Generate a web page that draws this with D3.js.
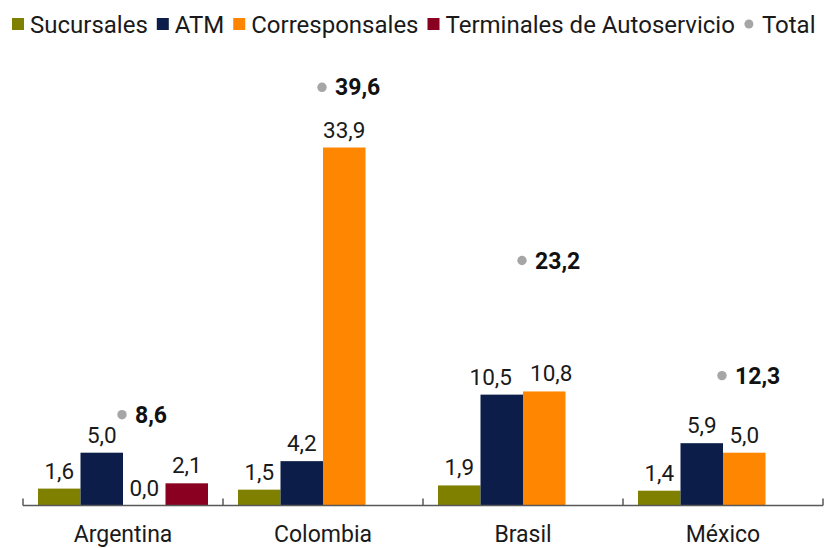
<!DOCTYPE html>
<html><head><meta charset="utf-8">
<script src="https://cdn.jsdelivr.net/npm/d3@7"></script>
<style>body{margin:0;background:#fff}svg{display:block}text{font-family:Roboto,"Noto Sans",sans-serif}</style>
</head><body>
<svg id="c" width="832" height="548"></svg>
<script>
const countries = ["Argentina","Colombia","Brasil","México"];
const seriesNames = ["Sucursales","ATM","Corresponsales","Terminales de Autoservicio"];
const sucursales = [1.6,1.5,1.9,1.4];
const atm = [5.0,4.2,10.5,5.9];
const corresponsales = [0.0,33.9,10.8,5.0];
const terminales = [2.1,null,null,null];
const totals = [8.6,39.6,23.2,12.3];
const colors = ["#7F7F00","#0B1D48","#FF8600","#8A0020"];
const totalColor = "#A6A6A6";
const seriesVals = [sucursales,atm,corresponsales,terminales];
const fmt = v => d3.format(".1f")(v).replace(".",",");
// label nudges to avoid overlapping value labels
const labelNudge = {"Brasil|ATM": -11, "Brasil|Corresponsales": 7};

const svg = d3.select("#c");
const baseY = 505.5;
const x0 = d3.scaleBand().domain(countries).range([23,823]);
const x1 = d3.scaleBand().domain(seriesNames).range([15,185]);
const y = d3.scaleLinear().domain([0,40]).range([baseY, baseY-40*10.56]);

countries.forEach((c,i)=>{
  const g = svg.append("g").attr("transform",`translate(${x0(c)},0)`);
  seriesNames.forEach((s,j)=>{
    const v = seriesVals[j][i];
    if(v===null) return;
    g.append("rect").attr("x",x1(s)).attr("width",x1.bandwidth())
      .attr("y",y(v)).attr("height",baseY-y(v)).attr("fill",colors[j]);
    const nx = labelNudge[c+"|"+s] || 0;
    g.append("text").attr("x",x1(s)+x1.bandwidth()/2+nx).attr("y",y(v)-10)
      .attr("text-anchor","middle").attr("font-size",22.5).attr("fill","#1a1a1a").text(fmt(v));
  });
  const cx = x0.bandwidth()/2 - 1;
  g.append("circle").attr("cx",cx).attr("cy",y(totals[i])).attr("r",4.7).attr("fill",totalColor);
  g.append("text").attr("x",cx+13).attr("y",y(totals[i])+8).attr("font-size",23)
    .attr("font-weight","bold").attr("fill","#111").text(fmt(totals[i]));
});

const axis = d3.axisBottom(x0).tickSize(0).tickPadding(0);
const ax = svg.append("g").attr("transform",`translate(0,${baseY})`).call(axis);
ax.select(".domain").remove();
ax.selectAll("text").attr("font-size",23).attr("fill","#1a1a1a").attr("dy",null).attr("y",36);
ax.append("line").attr("x1",23).attr("x2",823).attr("y1",0).attr("y2",0).attr("stroke","#595959").attr("stroke-width",1.5);
const bounds = x0.domain().map(d=>x0(d)).concat([x0.range()[1]]);
ax.selectAll("line.tk").data(bounds).enter().append("line").attr("class","tk")
  .attr("x1",d=>d).attr("x2",d=>d).attr("y1",0).attr("y2",-7).attr("stroke","#595959").attr("stroke-width",1.5);

const legendItems = seriesNames.map((s,j)=>({name:s,color:colors[j],type:"rect"})).concat([{name:"Total",color:totalColor,type:"dot"}]);
const lg = svg.append("g");
let lx = 12;
legendItems.forEach(it=>{
  if(it.type==="rect"){
    lg.append("rect").attr("x",lx).attr("y",18).attr("width",12).attr("height",12).attr("fill",it.color);
  } else {
    lg.append("circle").attr("cx",lx+5).attr("cy",24).attr("r",4.5).attr("fill",it.color);
  }
  const t = lg.append("text").attr("x",lx+18).attr("y",32.5).attr("font-size",24).attr("fill","#1a1a1a").text(it.name);
  lx += 18 + t.node().getComputedTextLength() + 9;
});
</script>
</body></html>
